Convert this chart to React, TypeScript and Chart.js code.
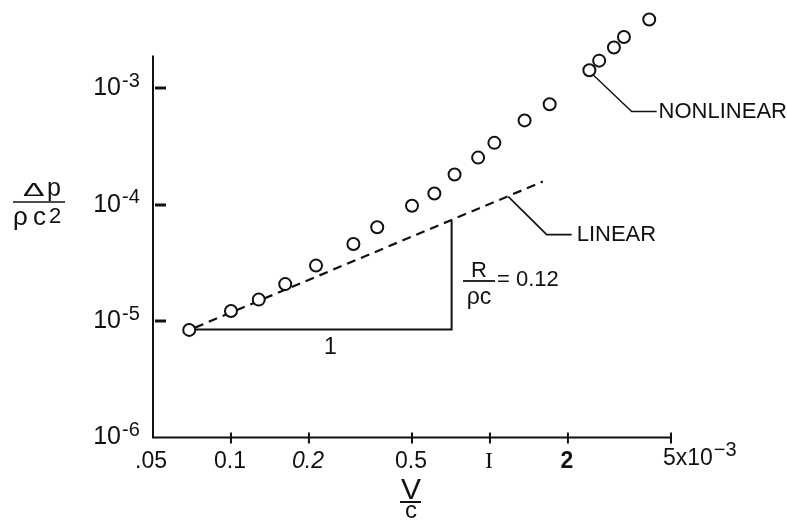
import React, { useEffect, useRef } from "react";
import { Chart, registerables } from "chart.js";

Chart.register(...registerables);

// Measured points: V/c (×10^-3) and Δp/ρc²
const velocityRatio = [0.069, 0.1, 0.128, 0.162, 0.213, 0.297, 0.367, 0.5, 0.61, 0.73, 0.9, 1.04, 1.36, 1.7, 2.42, 2.64, 3.01, 3.29, 4.12];
const pressureRatio = [8.4e-6, 1.22e-5, 1.53e-5, 2.08e-5, 3.0e-5, 4.6e-5, 6.4e-5, 9.8e-5, 1.25e-4, 1.82e-4, 2.54e-4, 3.4e-4, 5.3e-4, 7.3e-4, 1.43e-3, 1.73e-3, 2.24e-3, 2.76e-3, 3.9e-3];

// Linear theory (dashed)
const linearX = [0.0726, 1.6];
const linearY = [8.79e-6, 1.58e-4];

// Slope triangle
const triangleX = [0.069, 0.711, 0.711];
const triangleY = [8.45e-6, 8.45e-6, 7.3e-5];

// Leader lines
const linearLeaderX = [1.177, 1.656, 2.068];
const linearLeaderY = [1.175e-4, 5.53e-5, 5.53e-5];
const nonlinearLeaderX = [2.506, 3.525, 4.4];
const nonlinearLeaderY = [1.3e-3, 6.33e-4, 6.33e-4];

// Axes
const X_MIN = 0.05;
const X_MAX = 5;
const Y_MIN = 1e-6;
const Y_MAX = 4.9e-3; // scale top (room for the highest points)
const Y_AXIS_TOP = 1.91e-3; // where the drawn axis line stops
const xTickValues = [0.05, 0.1, 0.2, 0.5, 1, 2, 5];
const xTickLabels = [".05", "0.1", "0.2", "0.5", "I", "2", "5x10"];
const yTickValues = [1e-6, 1e-5, 1e-4, 1e-3];
const yTickExponents = ["-6", "-5", "-4", "-3"];

const INK = "#111";
const SANS = '"Liberation Sans", Arial, sans-serif';
const SERIF = '"Liberation Serif", serif';

const pts = (xs: number[], ys: number[]) => xs.map((x, i) => ({ x, y: ys[i] }));

const paperPlugin = {
  id: "paperAxes",
  afterDraw(chart: any) {
    const { ctx } = chart;
    const xs = chart.scales.x;
    const ys = chart.scales.y;
    const x0 = Math.round(xs.getPixelForValue(X_MIN));
    const x1 = xs.getPixelForValue(X_MAX);
    const y0 = ys.getPixelForValue(Y_MIN);
    const y1 = ys.getPixelForValue(Y_AXIS_TOP);
    ctx.save();
    ctx.strokeStyle = INK;
    ctx.fillStyle = INK;
    ctx.lineWidth = 2;
    ctx.beginPath();
    ctx.moveTo(x0, y1);
    ctx.lineTo(x0, y0);
    ctx.lineTo(x1, y0);
    ctx.stroke();

    // y ticks (inward)
    ctx.lineWidth = 3;
    yTickValues.forEach((v) => {
      if (v === Y_MIN) return;
      const y = Math.round(ys.getPixelForValue(v));
      ctx.beginPath();
      ctx.moveTo(x0 + 2, y);
      ctx.lineTo(x0 + 13, y);
      ctx.stroke();
    });
    // x ticks (crossing)
    ctx.lineWidth = 2;
    xTickValues.forEach((v) => {
      if (v === X_MIN) return;
      const x = xs.getPixelForValue(v);
      ctx.beginPath();
      ctx.moveTo(x, y0 - 5);
      ctx.lineTo(x, y0 + 6);
      ctx.stroke();
    });

    // y tick labels
    ctx.textBaseline = "middle";
    yTickValues.forEach((v, i) => {
      const y = ys.getPixelForValue(v);
      ctx.font = `25px ${SANS}`;
      ctx.textAlign = "right";
      ctx.fillText("10", x0 - 32, y);
      ctx.font = `20px ${SANS}`;
      ctx.textAlign = "left";
      ctx.fillText(yTickExponents[i], x0 - 31, y - 7);
    });

    // x tick labels
    xTickValues.forEach((v, i) => {
      const x = xs.getPixelForValue(v);
      const label = xTickLabels[i];
      let font = `23px ${SANS}`;
      if (label === "0.2") font = `italic 23px ${SANS}`;
      if (label === "I") font = `24px ${SERIF}`;
      if (label === "2") font = `bold 23px ${SANS}`;
      ctx.font = font;
      if (i === xTickValues.length - 1) {
        ctx.textAlign = "left";
        ctx.fillText(label, x - 8, y0 + 21);
        const w = ctx.measureText(label).width;
        ctx.font = `20px ${SANS}`;
        ctx.fillText("\u22123", x - 8 + w + 1, y0 + 13);
      } else {
        ctx.textAlign = "center";
        ctx.fillText(label, x - (i === 0 ? 2 : 1), y0 + 24);
      }
    });

    // y axis title  Δp / ρc²
    ctx.textBaseline = "alphabetic";
    ctx.textAlign = "left";
    ctx.save();
    ctx.translate(23, 196);
    ctx.scale(1.7, 1);
    ctx.font = `19px ${SANS}`;
    ctx.fillText("Δ", 0, 0);
    ctx.restore();
    ctx.font = `25px ${SANS}`;
    ctx.fillText("p", 47, 196);
    ctx.lineWidth = 1.5;
    ctx.beginPath();
    ctx.moveTo(13, 202);
    ctx.lineTo(65, 202);
    ctx.stroke();
    ctx.font = `26px ${SANS}`;
    ctx.fillText("ρ", 13, 225);
    ctx.fillText("c", 33, 225);
    ctx.font = `22px ${SANS}`;
    ctx.fillText("2", 49, 223);

    // x axis title V / c
    ctx.textAlign = "center";
    ctx.font = `30px ${SANS}`;
    ctx.fillText("V", 411, 499);
    ctx.lineWidth = 2;
    ctx.beginPath();
    ctx.moveTo(400, 502);
    ctx.lineTo(421, 502);
    ctx.stroke();
    ctx.font = `24px ${SANS}`;
    ctx.fillText("c", 411, 518);

    // slope "1"
    const tx = (triangleX[0] * triangleX[1]) ** 0.5;
    ctx.font = `23px ${SANS}`;
    ctx.textBaseline = "middle";
    ctx.fillText("1", xs.getPixelForValue(tx) + 10, ys.getPixelForValue(triangleY[0]) + 18);

    // R/ρc = 0.12
    ctx.textBaseline = "alphabetic";
    ctx.font = `22px ${SANS}`;
    ctx.fillText("R", 479, 277);
    ctx.lineWidth = 1.8;
    ctx.beginPath();
    ctx.moveTo(463, 281);
    ctx.lineTo(495, 281);
    ctx.stroke();
    ctx.font = `23px ${SANS}`;
    ctx.fillText("ρc", 479, 304);
    ctx.textAlign = "left";
    ctx.textBaseline = "middle";
    ctx.font = `22px ${SANS}`;
    ctx.fillText("= 0.12", 497, 280);

    // LINEAR / NONLINEAR labels at ends of leaders
    const lx = xs.getPixelForValue(linearLeaderX[2]);
    const ly = ys.getPixelForValue(linearLeaderY[2]);
    ctx.fillText("LINEAR", lx + 5, ly);
    const nx = xs.getPixelForValue(nonlinearLeaderX[2]);
    const ny = ys.getPixelForValue(nonlinearLeaderY[2]);
    ctx.fillText("NONLINEAR", nx + 2, ny);
    ctx.restore();
  },
};

export default function App() {
  const ref = useRef<HTMLCanvasElement | null>(null);
  useEffect(() => {
    if (!ref.current) return;
    const lineDs = (xs: number[], ys: number[], extra: any = {}) => ({
      type: "line" as const,
      data: pts(xs, ys),
      showLine: true,
      borderColor: INK,
      borderWidth: 1.8,
      pointRadius: 0,
      fill: false,
      tension: 0,
      clip: false,
      ...extra,
    });
    const chart = new Chart(ref.current, {
      type: "scatter",
      data: {
        datasets: [
          {
            label: "Measured",
            data: pts(velocityRatio, pressureRatio),
            pointStyle: "circle",
            pointRadius: 6,
            borderWidth: 2,
            borderColor: INK,
            backgroundColor: "#fff",
            clip: false,
          } as any,
          lineDs(linearX, linearY, { borderDash: [9, 6], borderWidth: 2.2 }),
          lineDs(triangleX, triangleY, { borderWidth: 2 }),
          lineDs(linearLeaderX, linearLeaderY, { borderWidth: 1.6 }),
          lineDs(nonlinearLeaderX, nonlinearLeaderY, { borderWidth: 1.4 }),
        ],
      },
      options: {
        animation: false,
        responsive: false,
        devicePixelRatio: 1,
        events: [],
        layout: { padding: { left: 153, right: 116, top: 5, bottom: 82.5 } },
        scales: {
          x: { type: "logarithmic", min: X_MIN, max: X_MAX, display: false },
          y: { type: "logarithmic", min: Y_MIN, max: Y_MAX, display: false },
        },
        plugins: { legend: { display: false }, tooltip: { enabled: false } },
      },
      plugins: [paperPlugin],
    } as any);
    return () => chart.destroy();
  }, []);
  return (
    <div style={{ position: "fixed", left: 0, top: 0, width: 787, height: 520, background: "#fff" }}>
      <canvas ref={ref} width={787} height={520} style={{ display: "block" }} />
    </div>
  );
}
